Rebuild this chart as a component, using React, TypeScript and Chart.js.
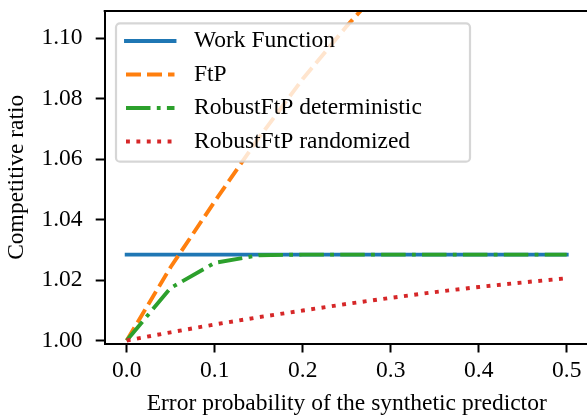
import React, { useEffect, useRef } from "react";
import { Chart, registerables } from "chart.js";

Chart.register(...registerables);

// ---- data ----
const xValues = [0, 0.05, 0.1, 0.15, 0.2, 0.25, 0.3, 0.35, 0.4, 0.45, 0.5];
const workFunction = [1.0284, 1.0284, 1.0284, 1.0284, 1.0284, 1.0284, 1.0284, 1.0284, 1.0284, 1.0284, 1.0284];
const ftp = [1.0, 1.0243, 1.046, 1.067, 1.0865, 1.104, 1.12, 1.135, 1.149, 1.162, 1.175];
const robustDeterministic = [1.0, 1.0174, 1.0257, 1.0282, 1.0284, 1.0284, 1.0284, 1.0284, 1.0284, 1.0284, 1.0284];
const robustRandomized = [1.0, 1.0027, 1.0053, 1.0077, 1.0099, 1.0121, 1.0141, 1.016, 1.0177, 1.0192, 1.0206];

const seriesLabels = ["Work Function", "FtP", "RobustFtP deterministic", "RobustFtP randomized"];
const xTicks = [0, 0.1, 0.2, 0.3, 0.4, 0.5];
const yTicks = [1.0, 1.02, 1.04, 1.06, 1.08, 1.1];
const xTitle = "Error probability of the synthetic predictor";
const yTitle = "Competitive ratio";

const X_MIN = -0.025;
const X_MAX = 0.525;
const Y_MIN = 0.999;
const Y_MAX = 1.109;

// ---- styling ----
const FONT = "Liberation Serif";
const FS = 23.5;
const LW = 3.9;
const W = 600;
const H = 420;
const colors = ["#1f77b4", "#ff7f0e", "#2ca02c", "#d62728"];
const dashes: number[][] = [[], [15, 6], [24.5, 6.3, 3.8, 6.3], [3.9, 6.5]];
const caps: CanvasLineCap[] = ["square", "butt", "butt", "butt"];
const orders = [4, 3, 2, 1];
const seriesValues = [workFunction, ftp, robustDeterministic, robustRandomized];

const framePlugin = {
  id: "frameAndLegend",
  afterDraw(chart: any) {
    const { ctx, chartArea } = chart;
    ctx.save();
    // top and right spines
    ctx.strokeStyle = "#000";
    ctx.lineWidth = 2;
    ctx.lineCap = "butt";
    ctx.beginPath();
    ctx.moveTo(chartArea.left - 1, chartArea.top);
    ctx.lineTo(chartArea.right + 1, chartArea.top);
    ctx.lineTo(chartArea.right, chartArea.bottom);
    ctx.stroke();

    // legend box
    const bx0 = 116, by0 = 23.3, bx1 = 470, by1 = 161.7;
    ctx.beginPath();
    ctx.roundRect(bx0, by0, bx1 - bx0, by1 - by0, 4);
    ctx.fillStyle = "rgba(255,255,255,0.8)";
    ctx.fill();
    ctx.strokeStyle = "rgba(204,204,204,0.8)";
    ctx.lineWidth = 2.2;
    ctx.stroke();

    ctx.font = `${FS}px "${FONT}"`;
    ctx.textBaseline = "middle";
    ctx.textAlign = "left";
    chart.data.datasets.forEach((ds: any, i: number) => {
      const y = 41 + 33.5 * i;
      ctx.beginPath();
      ctx.setLineDash(ds.borderDash || []);
      ctx.lineDashOffset = 0;
      ctx.lineCap = ds.borderCapStyle;
      ctx.strokeStyle = ds.borderColor;
      ctx.lineWidth = ds.borderWidth;
      ctx.moveTo(126, y);
      ctx.lineTo(174.5, y);
      ctx.stroke();
      ctx.setLineDash([]);
      ctx.fillStyle = "#000";
      ctx.fillText(ds.label, 194, y);
    });
    ctx.restore();
  },
};

export default function App() {
  const ref = useRef<HTMLCanvasElement | null>(null);

  useEffect(() => {
    if (!ref.current) return;
    const datasets = seriesLabels.map((label, i) => ({
      label,
      data: xValues.map((x, k) => ({ x, y: seriesValues[i][k] })),
      borderColor: colors[i],
      backgroundColor: colors[i],
      borderWidth: LW,
      borderDash: dashes[i],
      borderCapStyle: caps[i],
      borderJoinStyle: "round" as const,
      pointRadius: 0,
      pointHoverRadius: 0,
      fill: false,
      tension: 0,
      order: orders[i],
      clip: 0,
    }));

    const chart = new Chart(ref.current, {
      type: "line",
      data: { datasets },
      plugins: [framePlugin],
      options: {
        animation: false,
        responsive: false,
        devicePixelRatio: 1,
        events: [],
        layout: { padding: { left: 0, top: 11, right: W - 588.7, bottom: 0 } },
        plugins: { legend: { display: false }, tooltip: { enabled: false } },
        scales: {
          x: {
            type: "linear",
            min: X_MIN,
            max: X_MAX,
            afterBuildTicks: (s: any) => {
              s.ticks = xTicks.map((v) => ({ value: v }));
            },
            afterFit: (s: any) => {
              s.height = H - 343.5;
              s.paddingLeft = 0;
              s.paddingRight = 0;
              s.paddingTop = 0;
              s.paddingBottom = 0;
            },
            grid: {
              drawOnChartArea: false,
              drawTicks: true,
              tickLength: 9,
              tickWidth: 2,
              tickColor: "#000",
              color: "#000",
            },
            border: { display: true, color: "#000", width: 2, z: 1 },
            ticks: {
              autoSkip: false,
              maxRotation: 0,
              padding: 3.8,
              color: "#000",
              font: { family: FONT, size: FS },
              callback: (v: any) => Number(v).toFixed(1),
            },
            title: {
              display: true,
              text: xTitle,
              color: "#000",
              font: { family: FONT, size: FS },
              padding: { top: 0, bottom: 2.1 },
            },
          },
          y: {
            type: "linear",
            min: Y_MIN,
            max: Y_MAX,
            afterBuildTicks: (s: any) => {
              s.ticks = yTicks.map((v) => ({ value: v }));
            },
            afterFit: (s: any) => {
              s.width = 104.7;
              s.paddingLeft = 0;
              s.paddingRight = 0;
              s.paddingTop = 0;
              s.paddingBottom = 0;
            },
            grid: {
              drawOnChartArea: false,
              drawTicks: true,
              tickLength: 9,
              tickWidth: 2,
              tickColor: "#000",
              color: "#000",
            },
            border: { display: true, color: "#000", width: 2, z: 1 },
            ticks: {
              autoSkip: false,
              padding: 13.2,
              color: "#000",
              font: { family: FONT, size: FS },
              callback: (v: any) => Number(v).toFixed(2),
            },
            title: {
              display: true,
              text: yTitle,
              color: "#000",
              font: { family: FONT, size: FS },
              padding: { top: 3.0, bottom: 0 },
            },
          },
        },
      },
    });
    return () => chart.destroy();
  }, []);

  return (
    <div
      style={{
        position: "fixed",
        left: 0,
        top: 0,
        width: 587,
        height: 415,
        overflow: "hidden",
        background: "#fff",
      }}
    >
      <canvas ref={ref} width={W} height={H} style={{ display: "block", width: W, height: H }} />
    </div>
  );
}
